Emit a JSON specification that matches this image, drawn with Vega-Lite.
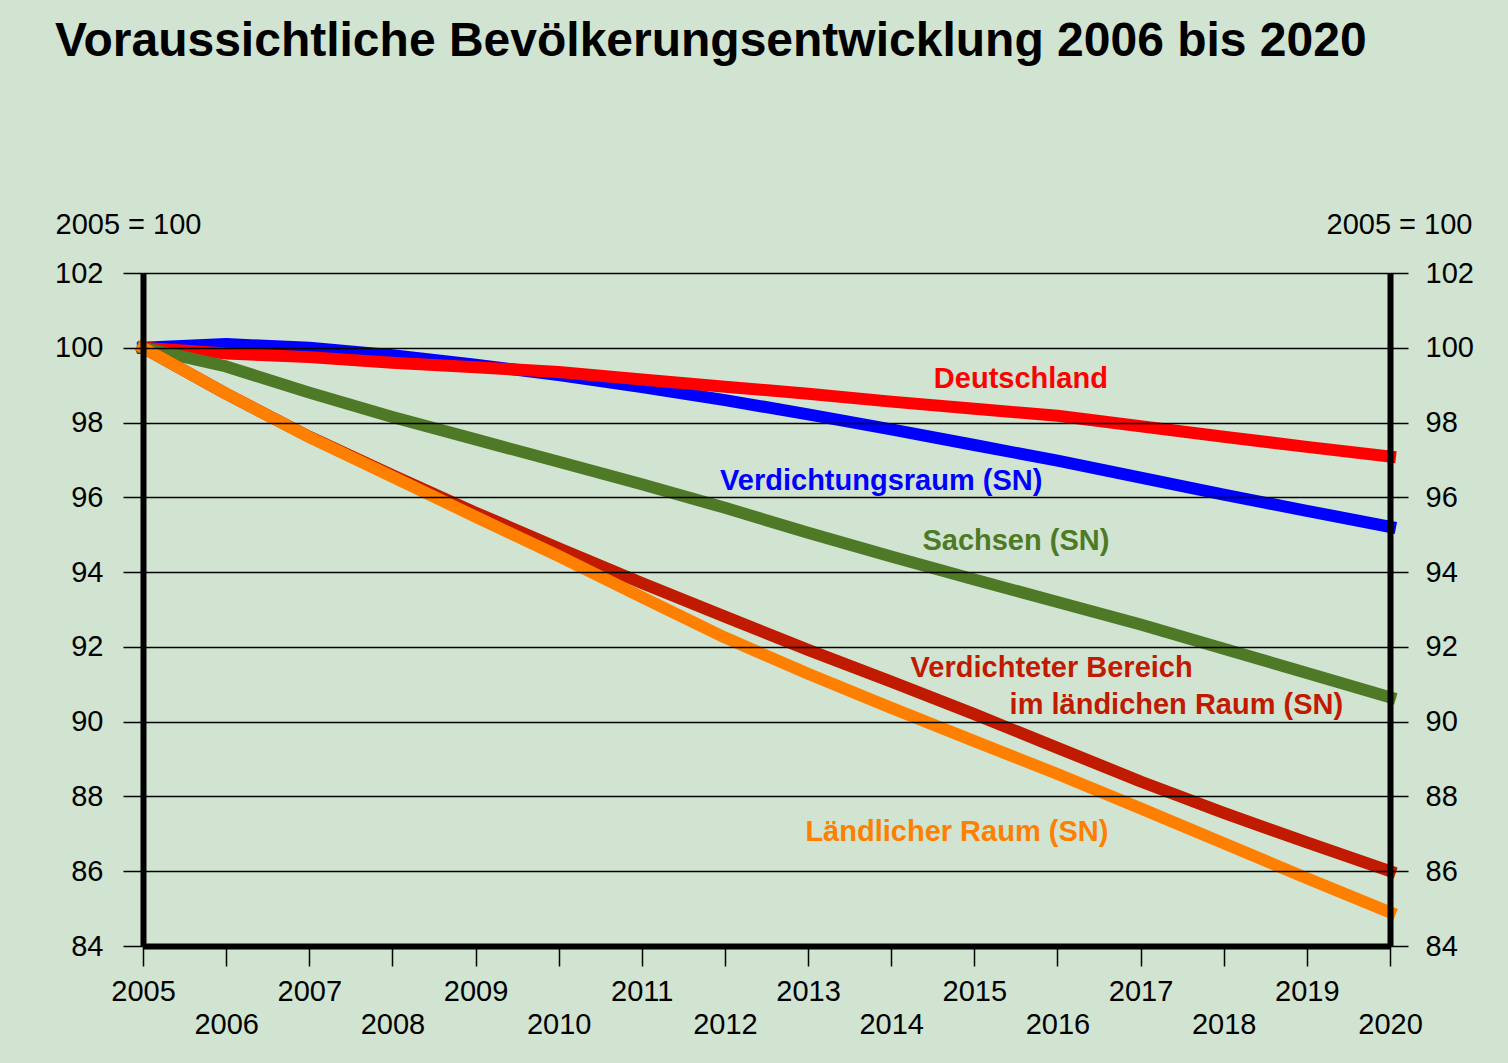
{
  "$schema": "https://vega.github.io/schema/vega-lite/v6.json",
  "autosize": "none",
  "width": 1247,
  "height": 673,
  "padding": {"left": 143, "top": 273, "right": 118, "bottom": 117},
  "background": "#d0e4d1",
  "view": {"stroke": null},
  "title": {
    "text": "Voraussichtliche Bevölkerungsentwicklung 2006 bis 2020",
    "anchor": "start",
    "frame": "group",
    "font": "Liberation Sans",
    "fontSize": 48,
    "fontWeight": "bold",
    "color": "#000000",
    "baseline": "alphabetic",
    "dx": -88,
    "offset": 106
  },
  "config": {
    "font": "Liberation Sans",
    "axis": {
      "labelFont": "Liberation Sans",
      "labelFontSize": 29,
      "labelColor": "#000000",
      "titleFont": "Liberation Sans",
      "titleFontSize": 29,
      "titleFontWeight": "normal",
      "titleColor": "#000000",
      "domainColor": "#000000",
      "domainWidth": 6,
      "tickColor": "#000000",
      "tickWidth": 1.5,
      "gridColor": "#000000",
      "gridWidth": 1.3,
      "gridOpacity": 1,
      "labelOverlap": false,
      "labelFlush": false,
      "labelBound": false
    }
  },
  "datasets": {
    "lines": [
      {"series": "Verdichtungsraum (SN)", "year": 2005, "value": 100.0},
      {"series": "Verdichtungsraum (SN)", "year": 2006, "value": 100.1},
      {"series": "Verdichtungsraum (SN)", "year": 2007, "value": 100.0},
      {"series": "Verdichtungsraum (SN)", "year": 2008, "value": 99.8},
      {"series": "Verdichtungsraum (SN)", "year": 2009, "value": 99.55},
      {"series": "Verdichtungsraum (SN)", "year": 2010, "value": 99.27},
      {"series": "Verdichtungsraum (SN)", "year": 2011, "value": 98.95},
      {"series": "Verdichtungsraum (SN)", "year": 2012, "value": 98.6},
      {"series": "Verdichtungsraum (SN)", "year": 2013, "value": 98.22},
      {"series": "Verdichtungsraum (SN)", "year": 2014, "value": 97.82},
      {"series": "Verdichtungsraum (SN)", "year": 2015, "value": 97.4},
      {"series": "Verdichtungsraum (SN)", "year": 2016, "value": 96.98},
      {"series": "Verdichtungsraum (SN)", "year": 2017, "value": 96.53},
      {"series": "Verdichtungsraum (SN)", "year": 2018, "value": 96.07},
      {"series": "Verdichtungsraum (SN)", "year": 2019, "value": 95.64},
      {"series": "Verdichtungsraum (SN)", "year": 2020, "value": 95.21},
      {"series": "Deutschland", "year": 2005, "value": 100.0},
      {"series": "Deutschland", "year": 2006, "value": 99.85},
      {"series": "Deutschland", "year": 2007, "value": 99.75},
      {"series": "Deutschland", "year": 2008, "value": 99.6},
      {"series": "Deutschland", "year": 2009, "value": 99.48},
      {"series": "Deutschland", "year": 2010, "value": 99.35},
      {"series": "Deutschland", "year": 2011, "value": 99.15},
      {"series": "Deutschland", "year": 2012, "value": 98.96},
      {"series": "Deutschland", "year": 2013, "value": 98.77},
      {"series": "Deutschland", "year": 2014, "value": 98.56},
      {"series": "Deutschland", "year": 2015, "value": 98.37},
      {"series": "Deutschland", "year": 2016, "value": 98.18},
      {"series": "Deutschland", "year": 2017, "value": 97.9},
      {"series": "Deutschland", "year": 2018, "value": 97.62},
      {"series": "Deutschland", "year": 2019, "value": 97.35},
      {"series": "Deutschland", "year": 2020, "value": 97.09},
      {"series": "Sachsen (SN)", "year": 2005, "value": 100.0},
      {"series": "Sachsen (SN)", "year": 2006, "value": 99.5},
      {"series": "Sachsen (SN)", "year": 2007, "value": 98.8},
      {"series": "Sachsen (SN)", "year": 2008, "value": 98.15},
      {"series": "Sachsen (SN)", "year": 2009, "value": 97.55},
      {"series": "Sachsen (SN)", "year": 2010, "value": 96.95},
      {"series": "Sachsen (SN)", "year": 2011, "value": 96.35},
      {"series": "Sachsen (SN)", "year": 2012, "value": 95.72},
      {"series": "Sachsen (SN)", "year": 2013, "value": 95.05},
      {"series": "Sachsen (SN)", "year": 2014, "value": 94.42},
      {"series": "Sachsen (SN)", "year": 2015, "value": 93.8},
      {"series": "Sachsen (SN)", "year": 2016, "value": 93.2},
      {"series": "Sachsen (SN)", "year": 2017, "value": 92.6},
      {"series": "Sachsen (SN)", "year": 2018, "value": 91.95},
      {"series": "Sachsen (SN)", "year": 2019, "value": 91.3},
      {"series": "Sachsen (SN)", "year": 2020, "value": 90.65},
      {"series": "Verdichteter Bereich im ländichen Raum (SN)", "year": 2005, "value": 100.0},
      {"series": "Verdichteter Bereich im ländichen Raum (SN)", "year": 2006, "value": 98.77},
      {"series": "Verdichteter Bereich im ländichen Raum (SN)", "year": 2007, "value": 97.62},
      {"series": "Verdichteter Bereich im ländichen Raum (SN)", "year": 2008, "value": 96.59},
      {"series": "Verdichteter Bereich im ländichen Raum (SN)", "year": 2009, "value": 95.59},
      {"series": "Verdichteter Bereich im ländichen Raum (SN)", "year": 2010, "value": 94.64},
      {"series": "Verdichteter Bereich im ländichen Raum (SN)", "year": 2011, "value": 93.71},
      {"series": "Verdichteter Bereich im ländichen Raum (SN)", "year": 2012, "value": 92.81},
      {"series": "Verdichteter Bereich im ländichen Raum (SN)", "year": 2013, "value": 91.92},
      {"series": "Verdichteter Bereich im ländichen Raum (SN)", "year": 2014, "value": 91.07},
      {"series": "Verdichteter Bereich im ländichen Raum (SN)", "year": 2015, "value": 90.2},
      {"series": "Verdichteter Bereich im ländichen Raum (SN)", "year": 2016, "value": 89.3},
      {"series": "Verdichteter Bereich im ländichen Raum (SN)", "year": 2017, "value": 88.4},
      {"series": "Verdichteter Bereich im ländichen Raum (SN)", "year": 2018, "value": 87.56},
      {"series": "Verdichteter Bereich im ländichen Raum (SN)", "year": 2019, "value": 86.77},
      {"series": "Verdichteter Bereich im ländichen Raum (SN)", "year": 2020, "value": 86.0},
      {"series": "Ländlicher Raum (SN)", "year": 2005, "value": 100.0},
      {"series": "Ländlicher Raum (SN)", "year": 2006, "value": 98.77},
      {"series": "Ländlicher Raum (SN)", "year": 2007, "value": 97.61},
      {"series": "Ländlicher Raum (SN)", "year": 2008, "value": 96.55},
      {"series": "Ländlicher Raum (SN)", "year": 2009, "value": 95.48},
      {"series": "Ländlicher Raum (SN)", "year": 2010, "value": 94.43},
      {"series": "Ländlicher Raum (SN)", "year": 2011, "value": 93.33},
      {"series": "Ländlicher Raum (SN)", "year": 2012, "value": 92.25},
      {"series": "Ländlicher Raum (SN)", "year": 2013, "value": 91.28},
      {"series": "Ländlicher Raum (SN)", "year": 2014, "value": 90.37},
      {"series": "Ländlicher Raum (SN)", "year": 2015, "value": 89.48},
      {"series": "Ländlicher Raum (SN)", "year": 2016, "value": 88.6},
      {"series": "Ländlicher Raum (SN)", "year": 2017, "value": 87.68},
      {"series": "Ländlicher Raum (SN)", "year": 2018, "value": 86.75},
      {"series": "Ländlicher Raum (SN)", "year": 2019, "value": 85.81},
      {"series": "Ländlicher Raum (SN)", "year": 2020, "value": 84.9}
    ],
    "labels": [
      {"label": "Deutschland", "series": "Deutschland", "year": 2015.56, "value": 99.17},
      {"label": "Verdichtungsraum (SN)", "series": "Verdichtungsraum (SN)", "year": 2013.88, "value": 96.44},
      {"label": "Sachsen (SN)", "series": "Sachsen (SN)", "year": 2015.5, "value": 94.83},
      {"label": "Verdichteter Bereich", "series": "Verdichteter Bereich im ländichen Raum (SN)", "year": 2015.93, "value": 91.44},
      {"label": "im ländichen Raum (SN)", "series": "Verdichteter Bereich im ländichen Raum (SN)", "year": 2017.43, "value": 90.45},
      {"label": "Ländlicher Raum (SN)", "series": "Ländlicher Raum (SN)", "year": 2014.79, "value": 87.05}
    ]
  },
  "layer": [
    {
      "data": {"name": "lines"},
      "mark": {"type": "line", "strokeWidth": 12, "strokeCap": "square", "strokeJoin": "round"},
      "encoding": {
        "x": {
          "field": "year",
          "type": "quantitative",
          "scale": {"domain": [2005, 2020], "nice": false, "zero": false},
          "axis": {
            "values": [2005, 2006, 2007, 2008, 2009, 2010, 2011, 2012, 2013, 2014, 2015, 2016, 2017, 2018, 2019, 2020],
            "format": "d",
            "title": null,
            "grid": false,
            "tickSize": 20,
            "labelBaseline": "top",
            "labelPadding": {"condition": {"test": "datum.value % 2 == 0", "value": 44}, "value": 11},
            "zindex": 1
          }
        },
        "y": {
          "field": "value",
          "type": "quantitative",
          "scale": {"domain": [84, 102], "nice": false, "zero": false},
          "axis": {
            "orient": "left",
            "values": [84, 86, 88, 90, 92, 94, 96, 98, 100, 102],
            "title": "2005 = 100",
            "titleAngle": 0,
            "titleAlign": "left",
            "titleBaseline": "middle",
            "titleX": -88,
            "titleY": -49,
            "grid": true,
            "tickSize": 20,
            "labelPadding": 20,
            "zindex": 1
          }
        },
        "color": {
          "field": "series",
          "type": "nominal",
          "scale": {
            "domain": ["Verdichtungsraum (SN)", "Deutschland", "Sachsen (SN)", "Verdichteter Bereich im ländichen Raum (SN)", "Ländlicher Raum (SN)"],
            "range": ["#0000ff", "#ff0000", "#4e7a27", "#c01a00", "#ff8000"]
          },
          "legend": null
        }
      }
    },
    {
      "data": {"name": "labels"},
      "mark": {"type": "text", "font": "Liberation Sans", "fontSize": 29, "fontWeight": "bold", "align": "center", "baseline": "middle"},
      "encoding": {
        "x": {"field": "year", "type": "quantitative"},
        "y": {
          "field": "value",
          "type": "quantitative",
          "axis": {
            "orient": "right",
            "values": [84, 86, 88, 90, 92, 94, 96, 98, 100, 102],
            "title": "2005 = 100",
            "titleAngle": 0,
            "titleAlign": "right",
            "titleBaseline": "middle",
            "titleX": 82,
            "titleY": -49,
            "grid": false,
            "tickSize": 18,
            "labelPadding": 17,
            "zindex": 1
          }
        },
        "text": {"field": "label"},
        "color": {"field": "series", "type": "nominal", "legend": null}
      }
    }
  ],
  "resolve": {"axis": {"y": "independent"}}
}
